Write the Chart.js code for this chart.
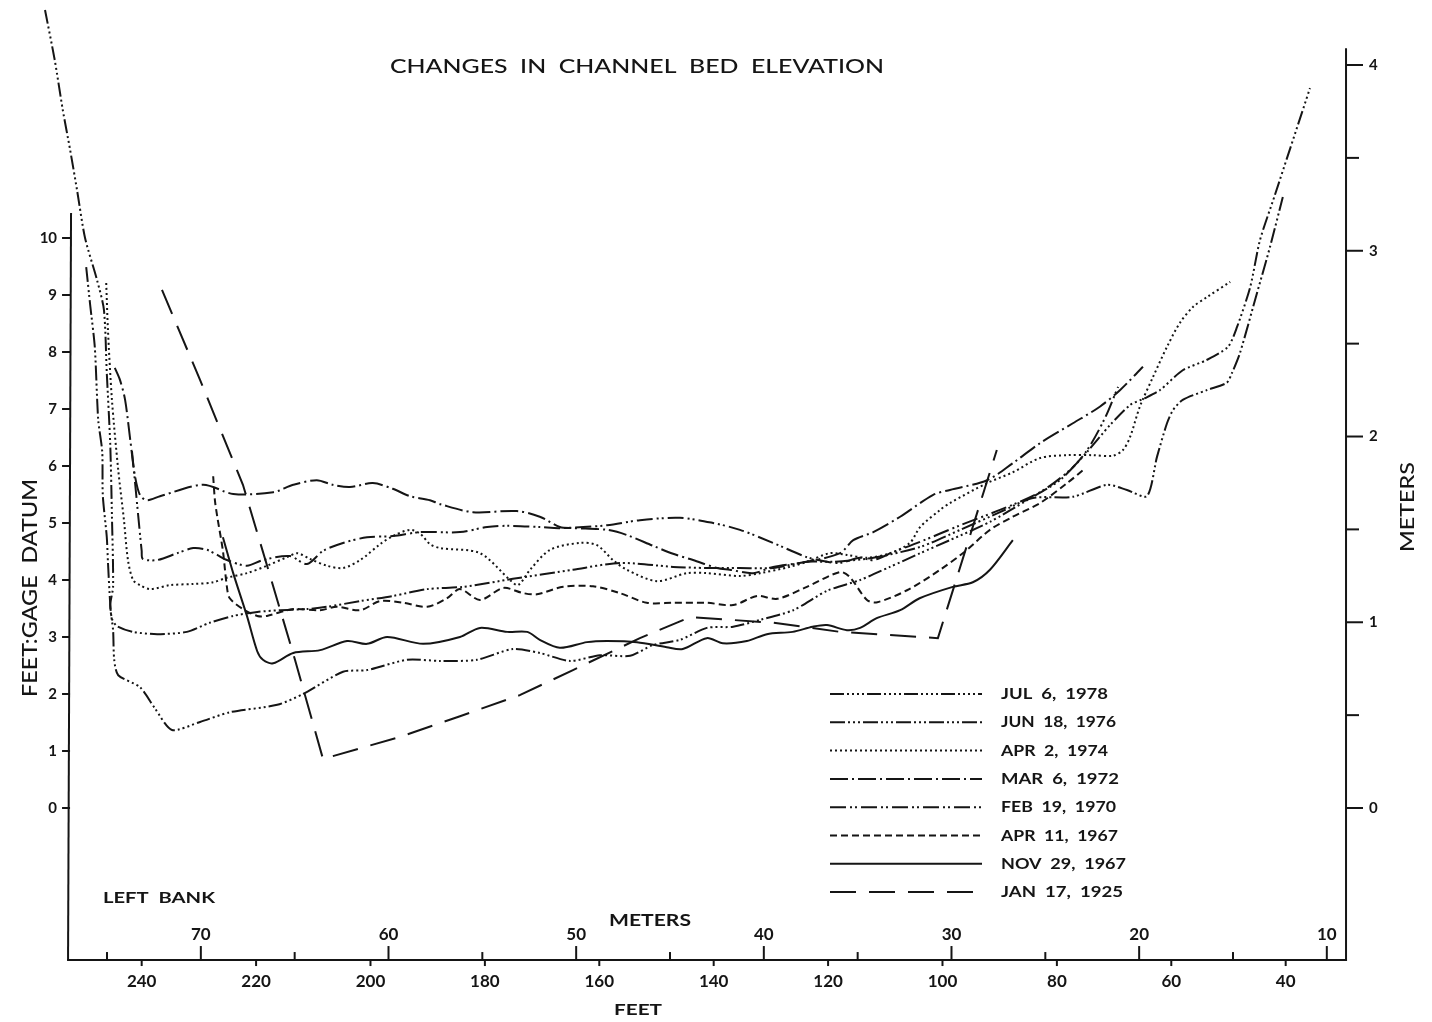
<!DOCTYPE html>
<html><head><meta charset="utf-8">
<script src="https://cdn.jsdelivr.net/npm/chart.js@4.4.1/dist/chart.umd.min.js"></script>
<style>html,body{margin:0;padding:0;background:#fff;overflow:hidden}canvas{display:block}</style>
</head><body>
<canvas id="c" width="1432" height="1022"></canvas>
<script>
// ---------------- DATA (distance in feet, elevation in feet above gage datum) ----------------
const seriesLabels = ['JUL  6,  1978','JUN  18,  1976','APR  2,  1974','MAR  6,  1972','FEB  19,  1970','APR  11,  1967','NOV  29,  1967','JAN  17,  1925'];

const jul1978 = [[256.9,14.0],[255.2,13.12],[253.8,12.25],[252.5,11.54],[251.3,10.84],[249.9,10.0],[247.8,9.26],[246.6,8.74],[246.1,7.63],[245.5,6.39],[245.2,5.12],[245.0,3.88],[245.5,3.56],[245.0,3.12],[244.8,2.60],[244.1,2.33],[240.3,2.12],[237.7,1.75],[234.7,1.37],[229.8,1.51],[224.6,1.68],[216.3,1.81],[211.8,2.00],[204.8,2.39],[200.6,2.42],[193.6,2.60],[187.8,2.58],[181.4,2.60],[175.1,2.79],[170.4,2.72],[165.1,2.58],[159.9,2.68],[154.6,2.67],[150.6,2.86],[145.9,2.95],[141.2,3.16],[136.6,3.18],[131.9,3.30],[126.1,3.47],[120.2,3.81],[114.4,4.00],[109.2,4.23],[103.9,4.47],[98.7,4.70],[91.7,5.02],[85.2,5.40],[79.5,5.75],[74.7,6.25],[70.7,6.72],[67.2,7.07],[64.6,7.19],[62.0,7.33],[58.0,7.68],[53.8,7.86],[50.1,8.09],[48.5,8.44],[46.2,9.14],[44.5,9.96],[41.9,10.75],[35.75,12.63]];

const jun1976 = [[249.7,9.49],[249.0,8.82],[248.2,8.09],[247.6,6.81],[246.9,6.25],[246.8,5.49],[246.1,4.75],[245.9,4.32],[245.5,3.58],[245.2,3.32],[244.3,3.19],[241.5,3.09],[237.3,3.05],[232.1,3.09],[228.1,3.25],[224.0,3.37],[219.8,3.44],[215.8,3.47],[211.1,3.49],[207.6,3.53],[201.8,3.63],[196.1,3.72],[190.1,3.84],[183.8,3.88],[175.1,4.02],[164.6,4.18],[156.4,4.30],[147.1,4.23],[141.2,4.21],[135.4,4.21],[129.6,4.21],[123.7,4.32],[119.1,4.32],[112.1,4.39],[103.9,4.58],[96.9,4.88],[89.95,5.19],[84.2,5.44],[77.2,5.46],[71.2,5.67],[67.75,5.58],[64.25,5.47],[62.5,6.16],[60.75,6.75],[59.7,6.98],[58.0,7.16],[53.8,7.33],[50.3,7.46],[49.4,7.63],[48.0,7.98],[45.0,9.04],[42.75,9.84],[40.5,10.72]];

const apr1974 = [[246.2,9.21],[245.9,8.39],[245.2,7.16],[244.1,5.93],[243.1,5.05],[242.4,4.35],[241.5,4.00],[240.3,3.91],[238.5,3.84],[235.05,3.91],[231.0,3.93],[227.5,3.96],[225.1,4.04],[221.6,4.12],[218.1,4.25],[214.6,4.40],[212.8,4.47],[210.6,4.37],[207.6,4.25],[204.8,4.21],[201.8,4.35],[198.3,4.63],[196.1,4.77],[193.1,4.88],[191.3,4.81],[189.6,4.63],[187.8,4.56],[180.85,4.47],[175.6,4.00],[174.2,3.91],[172.1,4.18],[168.6,4.53],[163.4,4.65],[160.4,4.61],[157.6,4.35],[155.2,4.18],[149.9,3.98],[144.7,4.12],[141.2,4.12],[135.4,4.07],[131.9,4.12],[126.7,4.23],[123.7,4.32],[119.7,4.47],[116.7,4.44],[113.2,4.39],[109.2,4.47],[105.7,4.65],[103.9,4.93],[100.4,5.23],[98.7,5.35],[92.2,5.70],[87.7,5.89],[82.95,6.14],[78.2,6.19],[73.7,6.19],[70.2,6.18],[68.45,6.28],[67.2,6.51],[65.5,7.04],[63.2,7.56],[60.75,8.09],[58.5,8.51],[56.2,8.79],[53.8,8.96],[49.7,9.23]];

const mar1972 = [[244.7,7.72],[243.8,7.51],[242.9,7.16],[242.0,6.46],[241.2,5.84],[240.3,5.49],[239.1,5.40],[236.8,5.47],[229.3,5.67],[224.0,5.51],[217.0,5.54],[213.5,5.67],[209.4,5.75],[206.6,5.67],[203.6,5.63],[199.6,5.70],[196.1,5.60],[193.1,5.47],[189.6,5.40],[187.8,5.33],[182.1,5.19],[174.4,5.21],[170.4,5.11],[166.9,4.93],[164.6,4.91],[158.65,4.88],[155.2,4.79],[150.6,4.60],[147.1,4.46],[143.6,4.35],[139.4,4.21],[137.2,4.18],[133.1,4.12],[129.6,4.23],[123.7,4.32],[117.9,4.47],[115.6,4.70],[112.1,4.84],[107.4,5.11],[101.7,5.49],[98.7,5.58],[92.2,5.75],[87.7,6.05],[82.95,6.40],[77.2,6.75],[72.5,7.04],[68.98,7.33],[64.95,7.74]];

const feb1970 = [[241.7,6.26],[241.2,5.75],[240.6,5.12],[240.0,4.51],[239.8,4.37],[237.3,4.35],[233.8,4.47],[231.0,4.56],[228.6,4.53],[226.8,4.44],[225.1,4.35],[221.6,4.25],[218.8,4.35],[214.1,4.42],[211.1,4.28],[208.3,4.51],[204.8,4.65],[200.6,4.75],[196.1,4.77],[191.3,4.84],[184.35,4.84],[179.6,4.93],[176.1,4.95],[170.4,4.93],[166.9,4.91],[158.65,4.96],[152.9,5.05],[145.9,5.09],[140.1,5.00],[135.4,4.88],[129.6,4.65],[123.7,4.40],[120.2,4.32],[117.9,4.30],[114.4,4.39],[112.1,4.35],[108.6,4.49],[103.9,4.67],[96.9,4.96],[89.95,5.23],[82.95,5.54],[77.7,5.93],[74.7,6.28],[71.6,6.84],[69.3,7.39]];

const apr1967 = [[227.5,5.82],[227.2,5.40],[226.8,5.12],[225.8,4.51],[225.1,3.88],[224.6,3.68],[222.3,3.49],[219.8,3.37],[218.1,3.37],[213.5,3.49],[208.8,3.47],[205.9,3.53],[201.8,3.47],[198.3,3.63],[194.3,3.60],[190.1,3.53],[186.6,3.68],[184.35,3.84],[180.85,3.65],[176.8,3.86],[173.3,3.77],[170.9,3.75],[166.3,3.88],[161.1,3.89],[156.4,3.77],[151.7,3.60],[147.1,3.60],[141.2,3.60],[136.6,3.56],[132.4,3.72],[128.9,3.67],[123.7,3.88],[117.9,4.14],[116.2,4.05],[113.2,3.65],[111.4,3.61],[106.2,3.82],[100.4,4.18],[95.7,4.53],[91.7,4.88],[87.7,5.11],[82.95,5.35],[78.2,5.70],[75.4,5.93]];

const nov1967 = [[225.8,4.75],[224.0,4.12],[221.6,3.37],[219.8,2.75],[218.8,2.60],[217.0,2.54],[213.5,2.72],[208.8,2.77],[204.1,2.93],[200.6,2.88],[197.1,3.00],[190.8,2.88],[184.35,3.00],[180.85,3.16],[176.1,3.09],[172.6,3.09],[170.4,2.95],[166.9,2.81],[162.15,2.91],[158.65,2.93],[153.4,2.91],[148.2,2.82],[145.4,2.79],[141.2,2.98],[138.4,2.89],[134.2,2.93],[130.7,3.05],[126.2,3.09],[122.7,3.18],[120.2,3.21],[116.7,3.12],[114.4,3.16],[111.5,3.33],[107.4,3.47],[104.0,3.68],[98.2,3.88],[94.7,3.96],[91.7,4.18],[87.7,4.70]];

const jan1925 = [[236.45,9.09],[229.8,7.51],[222.3,5.67],[217.6,4.09],[213.2,2.60],[208.3,0.86],[194.8,1.25],[184.35,1.61],[173.9,1.98],[164.6,2.42],[152.9,2.98],[144.1,3.35],[129.6,3.25],[117.9,3.09],[100.8,2.98],[90.5,6.28]];

const feetTicks = [240,220,200,180,160,140,120,100,80,60,40];
const meterXTicks = [70,60,50,40,30,20,10];
const meterXMinor = [75,65,55,45,35,25,15];
const elevTicks = [0,1,2,3,4,5,6,7,8,9,10];
const meterYTicks = [0,1,2,3,4];
const meterYMinor = [0.5,1.5,2.5,3.5];

// ---------------- STYLES ----------------
const dashStyles = [
  [14,3,2,3,2,3,2,3,2,3],
  [15,3,2,3,2,3,2,3],
  [2,3],
  [18,4,2,4],
  [16,4,2,3,2,4],
  [7,4],
  [],
  [26,13]
];
const tensions = [0.25,0.25,0.3,0.3,0.3,0.3,0.3,0];
const allSeries = [jul1978,jun1976,apr1974,mar1972,feb1970,apr1967,nov1967,jan1925];

const FT_PER_M = 3.28084;
const xMinFt = 14.42, xMaxFt = 264.77, yMinFt = -3.754, yMaxFt = 14.175;
const yMinM = -1.152, yMaxM = 4.35;
// axis frame positions (in data units)
const axisFloorFt = -2.667, axisLeftFt = 252.7, axisRightFt = 29.45, leftAxisTopFt = 10.44, rightAxisTopM = 4.09;

const INK = '#151515';

function txt(ctx, s, x, y, font, align, w) {
  ctx.save();
  ctx.font = font; ctx.textBaseline = 'middle'; ctx.textAlign = align;
  const mw = ctx.measureText(s).width;
  const sx = w ? w / mw : 1;
  ctx.translate(x, y); ctx.scale(sx, 1);
  ctx.fillText(s, 0, 0);
  ctx.restore();
}
function seg(ctx, x1, y1, x2, y2) { ctx.beginPath(); ctx.moveTo(x1, y1); ctx.lineTo(x2, y2); ctx.stroke(); }

const deco = {
  id: 'deco',
  afterDatasetsDraw(chart) {
    const {ctx} = chart;
    const {x, y, xM, yM} = chart.scales;
    ctx.save();
    ctx.strokeStyle = INK; ctx.fillStyle = INK; ctx.lineWidth = 2; ctx.setLineDash([]);
    const floorY = y.getPixelForValue(axisFloorFt);
    const lx = x.getPixelForValue(axisLeftFt), rx = x.getPixelForValue(axisRightFt);
    // frame
    seg(ctx, lx - 2, floorY, rx + 1, floorY);
    seg(ctx, lx + 2, y.getPixelForValue(leftAxisTopFt), lx - 1, floorY);
    seg(ctx, rx, yM.getPixelForValue(rightAxisTopM), rx, floorY + 1);
    // left ticks
    const tf = 'bold 15px Lato';
    elevTicks.forEach(v => {
      const py = y.getPixelForValue(v);
      seg(ctx, lx - 7, py, lx + 1, py);
      txt(ctx, String(v), lx - 12, py, tf, 'right');
    });
    // right ticks
    meterYTicks.forEach(v => {
      const py = yM.getPixelForValue(v);
      seg(ctx, rx, py, rx + 17, py);
      txt(ctx, String(v), rx + 23, py, tf, 'left');
    });
    meterYMinor.forEach(v => { const py = yM.getPixelForValue(v); seg(ctx, rx, py, rx + 13, py); });
    // bottom feet ticks
    const bf = 'bold 17px Lato';
    feetTicks.forEach(v => {
      const px = x.getPixelForValue(v);
      seg(ctx, px, floorY, px, floorY + 6);
      txt(ctx, String(v), px, floorY + 21, bf, 'center');
    });
    meterXTicks.forEach(v => {
      const px = xM.getPixelForValue(v);
      seg(ctx, px, floorY, px, floorY - 14);
      txt(ctx, String(v), px, floorY - 26, bf, 'center');
    });
    meterXMinor.forEach(v => { const px = xM.getPixelForValue(v); seg(ctx, px, floorY, px, floorY - 8); });
    // titles
    txt(ctx, 'CHANGES  IN  CHANNEL  BED  ELEVATION', 637, 67, '500 20px Lato', 'center', 494);
    txt(ctx, 'LEFT  BANK', 103, 898, 'bold 16px Lato', 'left', 112);
    txt(ctx, 'METERS', 650, 921, 'bold 17px Lato', 'center', 82);
    txt(ctx, 'FEET', 638, 1010, 'bold 16px Lato', 'center', 48);
    ctx.save(); ctx.translate(30, 588); ctx.rotate(-Math.PI / 2);
    txt(ctx, 'FEET:GAGE  DATUM', 0, 0, '500 22px Lato', 'center', 218);
    ctx.restore();
    ctx.save(); ctx.translate(1408, 507); ctx.rotate(-Math.PI / 2);
    txt(ctx, 'METERS', 0, 0, '500 20px Lato', 'center', 90);
    ctx.restore();
    // legend
    chart.data.datasets.forEach((ds, i) => {
      const yy = 694 + i * 28.3;
      ctx.save();
      ctx.lineWidth = 2; ctx.setLineDash(ds.borderDash || []);
      seg(ctx, 830, yy, 982, yy);
      ctx.restore();
      txt(ctx, ds.label, 1001, yy, 'bold 16px Lato', 'left', [107,115,107,118,115,117,125,122][i]);
    });
    ctx.restore();
  }
};

const datasets = allSeries.map((s, i) => ({
  label: seriesLabels[i],
  data: s.map(p => ({x: p[0], y: p[1]})),
  showLine: true,
  borderColor: INK,
  borderWidth: 2,
  borderDash: dashStyles[i],
  borderCapStyle: 'butt',
  pointRadius: 0,
  tension: tensions[i],
  fill: false
}));

new Chart(document.getElementById('c'), {
  type: 'scatter',
  data: { datasets },
  options: {
    responsive: false,
    animation: false,
    devicePixelRatio: 1,
    events: [],
    layout: { padding: 0 },
    plugins: { legend: { display: false }, title: { display: false }, tooltip: { enabled: false } },
    scales: {
      x: { type: 'linear', reverse: true, min: xMinFt, max: xMaxFt, display: false },
      y: { type: 'linear', min: yMinFt, max: yMaxFt, display: false },
      xM: { type: 'linear', axis: 'x', reverse: true, min: xMinFt / FT_PER_M, max: xMaxFt / FT_PER_M, display: false },
      yM: { type: 'linear', axis: 'y', min: yMinM, max: yMaxM, display: false }
    }
  },
  plugins: [deco]
});
</script>
</body></html>
